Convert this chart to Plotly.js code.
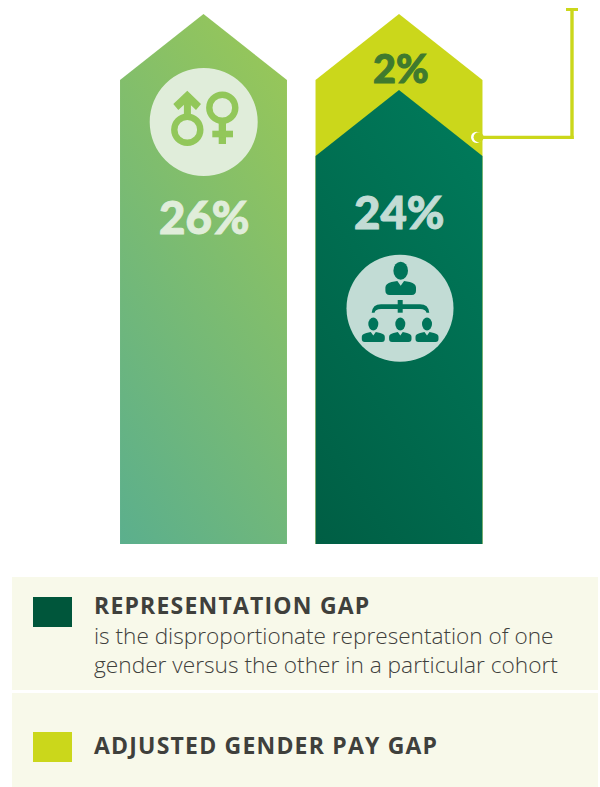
<!DOCTYPE html>
<html>
<head>
<meta charset="utf-8">
<script src="https://cdn.plot.ly/plotly-3.0.1.min.js"></script>
<style>html,body{margin:0;padding:0;background:#fff}#chart{width:600px;height:787px}</style>
</head>
<body>
<div id="chart"></div>
<script>
// Chart values, in percent
const barPositions = [0, 1];
const overallGap = [26];
const representationGap = [24];
const adjustedPayGap = [2];
const legendTitles = ['REPRESENTATION GAP', 'ADJUSTED GENDER PAY GAP'];
const legendNote = ['is the disproportionate representation of one', 'gender versus the other in a particular cohort'];

const W = 600, H = 787;
const colors = {
  lime: '#CBD71B', deep: '#00563B', panel: '#F8F9EA', ink: '#3F403C',
  sage: '#92C75A', paleSage: '#E0EDDA', teal: '#00745A', paleTeal: '#C2DCD5', moss: '#3F7A2E'
};

// Page-pixel helpers for the decorative layer (panels, icons, leader line)
const px = x => x / W;
const py = y => 1 - y / H;
const path = (pts, fill) => ({
  type: 'path', xref: 'paper', yref: 'paper', layer: 'above', line: {width: 0}, fillcolor: fill,
  path: pts.map(p => p[0] + p.slice(1).reduce((s, v, i) => s + (i ? ' ' : '') + (i % 2 ? py(v) : px(v)).toFixed(5) + (i % 2 ? ',' : ','), '').replace(/[ ,]+$/, '')).join(' ')
});
const pg = (coords, fill) => path(coords.map((c, i) => [i ? 'L' : 'M', c[0], c[1]]).concat([['Z']]), fill);
const rect = (x0, y0, x1, y1, fill) => ({
  type: 'rect', xref: 'paper', yref: 'paper', layer: 'above', line: {width: 0}, fillcolor: fill,
  x0: px(x0), x1: px(x1), y0: py(y0), y1: py(y1)
});
const ellipse = (cx, cy, rx, ry, fill, stroke, sw) => ({
  type: 'circle', xref: 'paper', yref: 'paper', layer: 'above',
  line: {width: sw || 0, color: stroke || fill}, fillcolor: fill,
  x0: px(cx - rx), x1: px(cx + rx), y0: py(cy - ry), y1: py(cy + ry)
});

// Arrow-topped column outline
const halfWidth = 0.427, shoulder = 1.737, baseline = 12.05;
const arrow = (i, value) => ({
  x: [i - halfWidth, i - halfWidth, i, i + halfWidth, i + halfWidth, i - halfWidth],
  y: [baseline, value - shoulder, value, value - shoulder, baseline, baseline]
});
const columnTrace = (i, value, color, name) => Object.assign(arrow(i, value), {
  type: 'scatter', mode: 'lines', fill: 'toself', fillcolor: color,
  line: {width: 0, color: color}, hoverinfo: 'name', name: name, showlegend: false
});

const traces = [
  columnTrace(barPositions[0], overallGap[0], '#7DBA70', 'Gender pay gap'),
  columnTrace(barPositions[1], representationGap[0] + adjustedPayGap[0], colors.lime, legendTitles[1]),
  columnTrace(barPositions[1], representationGap[0], colors.teal, legendTitles[0])
];

// Person pictogram: head plus shoulders with a small collar notch
function person(cx, headY, rx, ry, top, bottom, hw, fill) {
  const r = (bottom - top) * 0.32, n = hw * 0.22;
  return [
    ellipse(cx, headY, rx, ry, fill),
    path([['M', cx - hw, bottom - r], ['L', cx - hw, top + r * 1.3],
      ['Q', cx - hw, top + r * 0.4, cx - hw * 0.6, top], ['L', cx - n, top - 1], ['L', cx, top + (bottom - top) * 0.28],
      ['L', cx + n, top - 1], ['L', cx + hw * 0.6, top], ['Q', cx + hw, top + r * 0.4, cx + hw, top + r * 1.3],
      ['L', cx + hw, bottom - r], ['Q', cx + hw, bottom, cx + hw - r, bottom],
      ['L', cx - hw + r, bottom], ['Q', cx - hw, bottom, cx - hw, bottom - r], ['Z']], fill)
  ];
}

const shapes = [
  // Legend panels and swatches
  rect(12, 577, 598, 690, colors.panel),
  rect(12, 693, 598, 787, colors.panel),
  rect(33, 597, 72, 627, colors.deep),
  rect(33, 732, 72, 762, colors.lime),

  // Leader line from the lime band to the top of the page
  rect(566, 8, 578, 11, colors.lime),
  rect(570.3, 8, 573.7, 139, colors.lime),
  rect(481, 135.8, 573.7, 139, colors.lime),
  ellipse(476.6, 137.3, 5.6, 5.6, '#FFFFFF'),
  ellipse(478.6, 137.3, 5, 5, colors.lime),

  // Gender badge
  ellipse(203.7, 122, 54, 54, colors.paleSage),
  ellipse(187.3, 129.7, 13, 13, 'rgba(0,0,0,0)', colors.sage, 6.4),
  rect(183.9, 94, 190.9, 118, colors.sage),
  pg([[187.3, 90.7], [201, 104], [196, 110], [187.3, 101.7], [178.3, 110], [173.3, 104]], colors.sage),
  ellipse(222.3, 107.7, 13, 13, 'rgba(0,0,0,0)', colors.sage, 6.4),
  rect(218.7, 123, 226, 144, colors.sage),
  rect(212.3, 130.7, 233, 137.3, colors.sage),

  // Hierarchy badge
  ellipse(400, 308.3, 53.5, 53.5, colors.paleTeal),
  rect(397.7, 300, 402.7, 312.7, colors.teal),
  path([['M', 371.7, 312.7], ['Q', 372.5, 304.3, 381, 304.3], ['L', 420, 304.3],
    ['Q', 428.5, 304.3, 429.3, 312.7], ['L', 426.5, 312.7], ['Q', 425.5, 309, 420, 309],
    ['L', 381, 309], ['Q', 375.5, 309, 374.5, 312.7], ['Z']], colors.teal),
  ...person(400.7, 270.7, 7.3, 9, 282, 295, 15.3, colors.teal),
  ...person(373.3, 324, 5, 6.4, 333, 342, 11.5, colors.teal),
  ...person(400.3, 324, 5, 6.4, 333, 342, 11.2, colors.teal),
  ...person(427, 324, 5, 6.4, 333, 342, 11.5, colors.teal)
];

const label = (text, x, y, size, color, weight, anchor, family) => ({
  text: text, xref: 'paper', yref: 'paper', x: px(x), y: py(y), showarrow: false,
  xanchor: anchor || 'center', yanchor: 'middle', align: anchor || 'center', borderpad: 0,
  font: {family: family || '"Open Sans", sans-serif', size: size, color: color, weight: weight}
});

const annotations = [
  label(overallGap[0] + '%', 203.5, 217, 45.5, colors.paleSage, 900, 'center', 'Lato, sans-serif'),
  label(representationGap[0] + '%', 399, 212, 45.5, colors.paleTeal, 900, 'center', 'Lato, sans-serif'),
  label(adjustedPayGap[0] + '%', 401, 67, 39.5, colors.moss, 900, 'center', 'Lato, sans-serif'),
  label(legendTitles[0], 93, 605, 23, colors.ink, 700, 'left'),
  label(legendNote[0], 93, 635, 22.6, colors.ink, 300, 'left'),
  label(legendNote[1], 93, 664, 22.7, colors.ink, 300, 'left'),
  label(legendTitles[1], 93, 745, 23, colors.ink, 700, 'left')
];

const layout = {
  width: W, height: H,
  margin: {l: 0, r: 0, t: 0, b: 0},
  paper_bgcolor: '#FFFFFF', plot_bgcolor: '#FFFFFF',
  showlegend: false,
  xaxis: {range: [-1.0409, 2.0281], visible: false, fixedrange: true},
  yaxis: {range: [5.658, 26.368], visible: false, fixedrange: true},
  shapes: shapes, annotations: annotations
};

// Diagonal gradients for the two columns, heavier numerals, tracked legend headings
function finishStyling(gd) {
  const svg = gd.querySelector('.main-svg');
  const ns = 'http://www.w3.org/2000/svg';
  const defs = svg.querySelector('defs') || svg.insertBefore(document.createElementNS(ns, 'defs'), svg.firstChild);
  const make = (id, x1, y1, x2, y2, stops) => {
    const g = document.createElementNS(ns, 'linearGradient');
    g.setAttribute('id', id);
    g.setAttribute('gradientUnits', 'userSpaceOnUse');
    Object.entries({x1, y1, x2, y2}).forEach(([k, v]) => g.setAttribute(k, v));
    stops.forEach(([o, c]) => {
      const s = document.createElementNS(ns, 'stop');
      s.setAttribute('offset', o);
      s.setAttribute('stop-color', c);
      g.appendChild(s);
    });
    defs.appendChild(g);
  };
  make('sageFade', 120, 544, 450, 319, [[0, '#5BAF8D'], [1, '#96C65A']]);
  make('tealFade', 315, 544, 645, 319, [[0, '#005E44'], [1, '#007C5C']]);
  const fills = gd.querySelectorAll('.scatterlayer .trace .js-fill');
  fills[0].style.fill = 'url(#sageFade)';
  fills[2].style.fill = 'url(#tealFade)';

  const texts = gd.querySelectorAll('.annotation-text');
  [0, 1, 2].forEach(i => {
    texts[i].style.stroke = annotations[i].font.color;
    texts[i].style.strokeWidth = '1px';
  });
  [3, 6].forEach(i => { texts[i].style.letterSpacing = '1.2px'; });
}

Plotly.newPlot('chart', traces, layout, {displayModeBar: false, staticPlot: true}).then(finishStyling);
</script>
</body>
</html>
